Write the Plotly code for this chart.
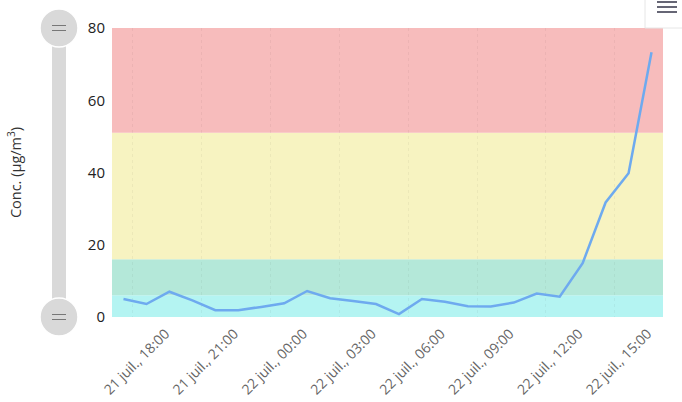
import pandas as pd
import plotly.graph_objects as go

# ---- data ----
times = pd.date_range("2024-07-21 16:00", periods=24, freq="h")
conc = [5.0, 3.6, 7.0, 4.6, 1.9, 1.9, 2.8, 3.8, 7.2, 5.2, 4.4, 3.6,
        0.8, 5.0, 4.2, 3.0, 2.9, 4.0, 6.5, 5.6, 14.9, 31.7, 39.8, 73.3]
band_edges = [0, 6, 16, 51, 80]
band_colors = ["#b4f4f2", "#b4e8d9", "#f7f3c1", "#f7bcbc"]
y_ticks = [0, 20, 40, 60, 80]

FONT = "Open Sans"

fig = go.Figure()
fig.add_trace(go.Scatter(
    x=times, y=conc, mode="lines",
    line=dict(color="#6eaaef", width=2.5),
    hoverinfo="x+y", showlegend=False,
))

# plot bands
for lo, hi, col in zip(band_edges[:-1], band_edges[1:], band_colors):
    fig.add_shape(type="rect", xref="paper", yref="y", x0=0, x1=1, y0=lo, y1=hi,
                  fillcolor=col, line_width=0, layer="below")

# vertical scrollbar (navigator) on the left (paper coords: 0 -> y=0, 1 -> y=80)
fig.add_shape(type="rect", xref="paper", yref="paper", xsizemode="pixel", xanchor=0,
              x0=-60, x1=-46, y0=0, y1=1,
              fillcolor="#d9d9d9", line_width=0, layer="above")
for yv in (0, 1):
    fig.add_shape(type="circle", xref="paper", yref="paper",
                  xsizemode="pixel", ysizemode="pixel", xanchor=0, yanchor=yv,
                  x0=-72, x1=-34, y0=-19, y1=19,
                  fillcolor="#d9d9d9", line=dict(color="white", width=1.5), layer="above")
    for dy in (-2.5, 2.5):
        fig.add_shape(type="line", xref="paper", yref="paper",
                      xsizemode="pixel", ysizemode="pixel", xanchor=0, yanchor=yv,
                      x0=-60, x1=-46, y0=dy, y1=dy,
                      line=dict(color="#777777", width=1), layer="above")

# hamburger menu button (top right, partially cut)
fig.add_shape(type="rect", xref="paper", yref="paper", xsizemode="pixel", ysizemode="pixel",
              xanchor=1, yanchor=1, x0=-18, x1=21, y0=0, y1=40,
              fillcolor="white", line=dict(color="#e6e6e6", width=1), layer="above")
for dy in (26, 21, 16):
    fig.add_shape(type="line", xref="paper", yref="paper", xsizemode="pixel", ysizemode="pixel",
                  xanchor=1, yanchor=1, x0=-6, x1=14, y0=dy, y1=dy,
                  line=dict(color="#555566", width=1.8), layer="above")

fig.update_layout(
    width=682, height=402,
    margin=dict(l=112, r=19, t=28, b=85),
    paper_bgcolor="white", plot_bgcolor="white",
    font=dict(family=FONT, color="#333333"),
    showlegend=False,
    xaxis=dict(
        type="date",
        range=[pd.Timestamp("2024-07-21 15:30"), pd.Timestamp("2024-07-22 15:30")],
        tick0="2024-07-21 18:00", dtick=3 * 3600 * 1000,
        tickformat="%-d juil., %H:%M",
        tickangle=-45,
        tickfont=dict(family=FONT, size=14, color="#666666"),
        showgrid=False, zeroline=False, showline=False, ticks="",
        ticklabelstandoff=5, ticklabelshift=-4,
        automargin=False,
        minor=dict(tick0="2024-07-21 16:24", dtick=3 * 3600 * 1000, showgrid=True,
                   griddash="dot", gridcolor="rgba(0,0,0,0.045)", gridwidth=1),
        fixedrange=True,
    ),
    yaxis=dict(
        range=[0, 80], tickvals=y_ticks,
        tickfont=dict(family=FONT, size=15, color="#222222"),
        showgrid=False, zeroline=False, showline=False, ticks="",
        ticklabelstandoff=6, automargin=False,
        title=dict(text="Conc. (µg/m<sup>3</sup>)", font=dict(family=FONT, size=14.5, color="#333333"),
                   standoff=62),
        fixedrange=True,
    ),
)

fig.write_html("out.html", config=dict(displayModeBar=False))
